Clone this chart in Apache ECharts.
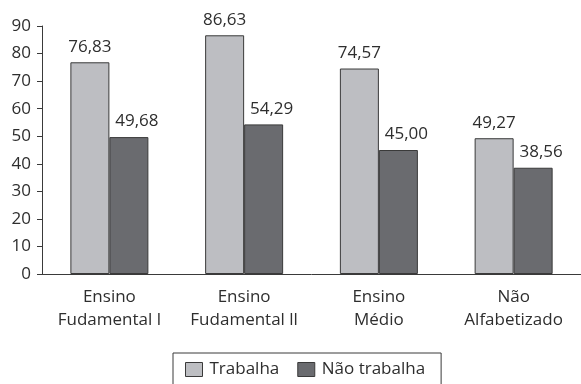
<!DOCTYPE html>
<html>
<head>
<meta charset="utf-8">
<script src="https://cdn.jsdelivr.net/npm/echarts@6/dist/echarts.min.js"></script>
<style>
  html, body { margin: 0; padding: 0; background: #fff; }
  #chart { width: 581px; height: 384px; }
</style>
</head>
<body>
<div id="chart"></div>
<script>
// Categories (education level) and the two groups compared
const categories = ['Ensino\nFudamental l', 'Ensino\nFudamental ll', 'Ensino\nMédio', 'Não\nAlfabetizado'];
const seriesNames = ['Trabalha', 'Não trabalha'];
const trabalha = [76.83, 86.63, 74.57, 49.27];
const naoTrabalha = [49.68, 54.29, 45.00, 38.56];
const yTicks = { min: 0, max: 90, interval: 10 };

const FONT = '"Open Sans", "Noto Sans", sans-serif';
const TEXT = '#2e2e2e';
const LINE = '#3a3a3a';
const LIGHT = '#bdbec2';
const DARK = '#6a6b6f';

// values shown with a decimal comma
const fmt = v => v.toFixed(2).replace('.', ',');

const chart = echarts.init(document.getElementById('chart'), null, { renderer: 'canvas' });

function barSeries(name, data, color, labelShift) {
  return {
    name: name,
    type: 'bar',
    data: data,
    barWidth: 39,
    barGap: '0%',
    itemStyle: { color: color, borderColor: LINE, borderWidth: 1 },
    label: {
      show: true,
      position: 'top',
      distance: 7,
      offset: [labelShift, 0],
      formatter: p => fmt(p.value),
      fontFamily: FONT,
      fontSize: 17,
      color: TEXT
    }
  };
}

chart.setOption({
  animation: false,
  backgroundColor: '#fff',
  grid: { left: 42, right: -4, top: 26, bottom: 110, containLabel: false },
  legend: {
    left: 173,
    top: 353,
    orient: 'horizontal',
    itemWidth: 17,
    itemHeight: 14,
    itemGap: 18,
    padding: [8, 16, 8, 12],
    borderColor: LINE,
    borderWidth: 1,
    textStyle: { fontFamily: FONT, fontSize: 17, color: TEXT, padding: [0, 0, 0, 2] },
    data: [
      { name: seriesNames[0], icon: 'rect', itemStyle: { color: LIGHT, borderColor: LINE, borderWidth: 1 } },
      { name: seriesNames[1], icon: 'rect', itemStyle: { color: DARK, borderColor: LINE, borderWidth: 1 } }
    ]
  },
  xAxis: {
    type: 'category',
    data: categories,
    axisLine: { show: true, lineStyle: { color: LINE, width: 1 } },
    axisTick: { show: false },
    axisLabel: {
      margin: 12,
      fontFamily: FONT,
      fontSize: 17,
      lineHeight: 23,
      color: TEXT,
      interval: 0
    }
  },
  yAxis: {
    type: 'value',
    min: yTicks.min,
    max: yTicks.max,
    interval: yTicks.interval,
    splitLine: { show: false },
    axisLine: { show: true, lineStyle: { color: LINE, width: 1 } },
    axisTick: { show: true, length: 5, lineStyle: { color: LINE } },
    axisLabel: {
      margin: 11,
      fontFamily: FONT,
      fontSize: 17,
      color: TEXT
    }
  },
  series: [
    barSeries(seriesNames[0], trabalha, LIGHT, 0),
    barSeries(seriesNames[1], naoTrabalha, DARK, 8)
  ]
});
</script>
</body>
</html>
